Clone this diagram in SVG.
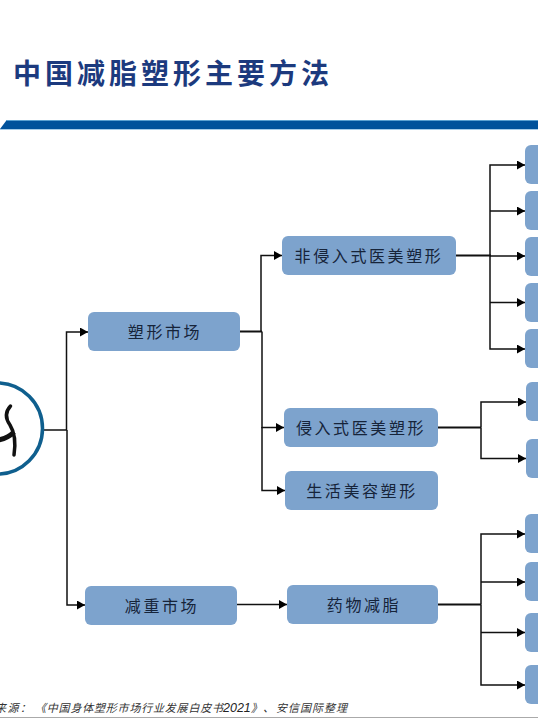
<svg xmlns="http://www.w3.org/2000/svg" width="538" height="718" viewBox="0 0 538 718">
<style>
.n{fill:#7da3cd}
.t{font-family:"Noto Sans CJK SC","Noto Sans CJK JP",sans-serif;font-size:16px;fill:#16243a;text-anchor:middle;letter-spacing:2.6px}
.c{fill:none;stroke:#111;stroke-width:1.5}
.h{stroke-width:2}
.f{font-family:"Noto Sans CJK SC","Liberation Sans",sans-serif;font-size:11px;font-style:italic;fill:#333}
.l{font-family:"Liberation Sans",sans-serif;font-size:12.500px;font-style:italic;fill:#222}
</style>
<defs><marker id="a" markerUnits="userSpaceOnUse" markerWidth="8" markerHeight="9" refX="8" refY="4.500" orient="auto"><path d="M0 0L8 4.500L0 9Z" fill="#000"/></marker></defs>
<rect width="538" height="718" fill="#fff"/>
<text x="13" y="84" style="font-family:'Noto Sans CJK SC',sans-serif;font-size:28px;font-weight:700;fill:#1c3a7e;letter-spacing:4px">中国减脂塑形主要方法</text>
<path d="M0 129L6 121H538V129Z" fill="#00529b"/>
<path d="M6 120.500H538" stroke="#5aa0d0" stroke-width="1"/><path d="M0 129.500H538" stroke="#a5cce8" stroke-width="1"/>
<g id="connectors">
<path class="c" d="M44 430H67M66.500 430V332H88" marker-end="url(#a)"/>
<path class="c" d="M67 430V605H85" marker-end="url(#a)" stroke="#444"/>
<path class="c h" d="M240 331.500H262"/>
<path class="c" d="M261 331.500V255.500H282" marker-end="url(#a)"/>
<path class="c" d="M262 331.500V427.500H284" marker-end="url(#a)"/>
<path class="c" d="M262 427V490.500H285" marker-end="url(#a)"/>
<path class="c h" d="M456 255.500H491"/>
<path class="c" d="M490 255V165H525" marker-end="url(#a)"/>
<path class="c" d="M490 211H525" marker-end="url(#a)"/>
<path class="c" d="M490 256H525" marker-end="url(#a)"/>
<path class="c" d="M490 302.500H525" marker-end="url(#a)"/>
<path class="c" d="M490 255V349H525" marker-end="url(#a)"/>
<path class="c h" d="M438 427.500H481"/>
<path class="c" d="M481 427.500V402H526" marker-end="url(#a)"/>
<path class="c" d="M481 427.500V458.500H526" marker-end="url(#a)"/>
<path class="c" d="M237 604.500H287" marker-end="url(#a)"/>
<path class="c h" d="M438 604.500H481"/>
<path class="c" d="M481 604.500V534H525" stroke="#333" marker-end="url(#a)"/>
<path class="c" d="M481 582H525" marker-end="url(#a)"/>
<path class="c" d="M481 632.500H525" marker-end="url(#a)"/>
<path class="c" d="M481 604.500V685H525" stroke="#333" marker-end="url(#a)"/>
</g>
<g id="root"><circle cx="-3" cy="428.500" r="45.500" fill="#fff" stroke="#0f5f8e" stroke-width="3.500"/>
<path d="M10.500 406C5 412 5 418 10 425C15 433 16 442 14 455" fill="none" stroke="#111" stroke-width="3.500" stroke-linecap="round"/><path d="M14 432C9 437 4 439 -2 440" fill="none" stroke="#111" stroke-width="5"/></g>
<g id="n1"><rect class="n" x="88" y="312" width="152" height="39" rx="6"/><text class="t" x="165" y="338">塑形市场</text></g>
<g id="n2"><rect class="n" x="85" y="586" width="152" height="39" rx="6"/><text class="t" x="162" y="612">减重市场</text></g>
<g id="n3"><rect class="n" x="282" y="236" width="174" height="39" rx="6"/><text class="t" x="369" y="262">非侵入式医美塑形</text></g>
<g id="n4"><rect class="n" x="284" y="408" width="154" height="39" rx="6"/><text class="t" x="361" y="434">侵入式医美塑形</text></g>
<g id="n5"><rect class="n" x="285" y="471" width="153" height="39" rx="6"/><text class="t" x="362" y="497">生活美容塑形</text></g>
<g id="n6"><rect class="n" x="287" y="585" width="151" height="39" rx="6"/><text class="t" x="364" y="611">药物减脂</text></g>
<g id="r1"><rect class="n" x="525" y="145" width="30" height="39" rx="6"/></g>
<g id="r2"><rect class="n" x="525" y="191" width="30" height="39" rx="6"/></g>
<g id="r3"><rect class="n" x="525" y="237" width="30" height="39" rx="6"/></g>
<g id="r4"><rect class="n" x="525" y="283" width="30" height="39" rx="6"/></g>
<g id="r5"><rect class="n" x="525" y="329" width="30" height="39" rx="6"/></g>
<g id="r6"><rect class="n" x="526" y="382" width="30" height="39" rx="6"/></g>
<g id="r7"><rect class="n" x="526" y="439" width="30" height="39" rx="6"/></g>
<g id="r8"><rect class="n" x="525" y="514" width="30" height="39" rx="6"/></g>
<g id="r9"><rect class="n" x="525" y="562" width="30" height="39" rx="6"/></g>
<g id="r10"><rect class="n" x="525" y="613" width="30" height="39" rx="6"/></g>
<g id="r11"><rect class="n" x="525" y="665" width="30" height="39" rx="6"/></g>
<text class="f" x="-5" y="712" letter-spacing="1.500">来源：</text>
<text class="f" x="35" y="712" letter-spacing="0.800">《中国身体塑形市场行业发展白皮书</text>
<text class="l" x="223" y="712">2021</text>
<text class="f" x="251" y="712">》</text>
<text class="f" x="263" y="712">、</text>
<text class="f" x="276" y="712" letter-spacing="1">安信国际整理</text>
<path d="M0 717.500H538" stroke="#aaa" stroke-width="1"/>
</svg>
